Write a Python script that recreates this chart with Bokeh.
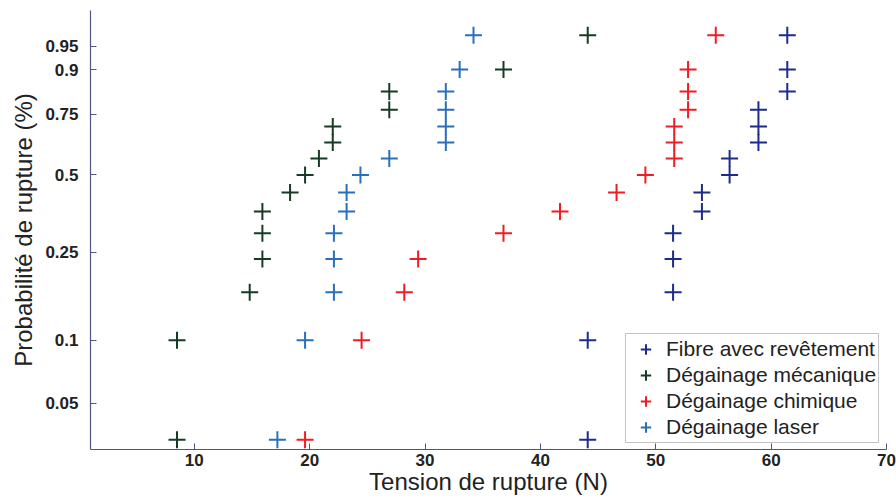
import math
from bokeh.plotting import figure
from bokeh.models import Range1d, FixedTicker, CustomJSTickFormatter, Legend, LegendItem
from bokeh.embed import file_html
from bokeh.resources import INLINE

# ---- data ----
n_samples = 15
# median-rank plotting positions (i - 0.5) / n
probabilities = [(i - 0.5) / n_samples for i in range(1, n_samples + 1)]

fibre_revetement = [44.1, 44.1, 51.5, 51.5, 51.5, 54.0, 54.0, 56.4, 56.4, 58.9, 58.9, 58.9, 61.4, 61.4, 61.4]
degainage_mecanique = [8.5, 8.5, 14.8, 15.9, 15.9, 15.9, 18.3, 19.6, 20.8, 22.0, 22.0, 26.9, 26.9, 36.8, 44.1]
degainage_chimique = [19.6, 24.5, 28.2, 29.4, 36.8, 41.7, 46.6, 49.1, 51.6, 51.6, 51.6, 52.8, 52.8, 52.8, 55.2]
degainage_laser = [17.2, 19.6, 22.1, 22.1, 22.1, 23.2, 23.2, 24.4, 26.9, 31.8, 31.8, 31.8, 31.8, 33.0, 34.2]

series_names = ["Fibre avec revêtement", "Dégainage mécanique", "Dégainage chimique", "Dégainage laser"]
series_values = [fibre_revetement, degainage_mecanique, degainage_chimique, degainage_laser]
series_colors = ["#1c2b8c", "#163b25", "#ee1c24", "#2a6ebe"]

y_tick_probs = [0.05, 0.1, 0.25, 0.5, 0.75, 0.9, 0.95]
y_tick_labels = ["0.05", "0.1", "0.25", "0.5", "0.75", "0.9", "0.95"]
x_ticks = [10, 20, 30, 40, 50, 60, 70]
x_title = "Tension de rupture (N)"
y_title = "Probabilité de rupture (%)"


def weibull(p):
    """Weibull probability scale: ln(-ln(1-p))."""
    return math.log(-math.log(1.0 - p))


y_pos = [weibull(q) for q in probabilities]
y_tick_pos = [weibull(q) for q in y_tick_probs]

FONT = "Liberation Sans"
AXIS_COLOR = "#50557f"
TEXT_COLOR = "#222222"

p = figure(width=896, height=497,
           x_range=Range1d(1, 70),
           y_range=Range1d(weibull(0.0299), weibull(0.989)),
           output_backend="svg", toolbar_location=None,
           min_border_left=90, min_border_right=10,
           min_border_top=10, min_border_bottom=48)
p.outline_line_color = None
p.grid.visible = False
p.background_fill_color = "white"
p.border_fill_color = "white"

renderers = []
for vals, col in zip(series_values, series_colors):
    r = p.scatter(vals, y_pos, marker="cross", size=17, line_width=2, line_color=col)
    renderers.append(r)

# axes
p.xaxis.ticker = FixedTicker(ticks=x_ticks)
p.yaxis.ticker = FixedTicker(ticks=y_tick_pos)
p.yaxis.formatter = CustomJSTickFormatter(args=dict(pos=y_tick_pos, lab=y_tick_labels), code="""
let best = 0, d = Infinity;
for (let i = 0; i < pos.length; i++) {
  const e = Math.abs(pos[i] - tick);
  if (e < d) { d = e; best = i; }
}
return lab[best];
""")

for ax in (p.xaxis[0], p.yaxis[0]):
    ax.major_tick_in = 6
    ax.major_tick_out = 0
    ax.minor_tick_line_color = None
    ax.axis_line_color = AXIS_COLOR
    ax.major_tick_line_color = AXIS_COLOR
    ax.axis_line_width = 1.2
    ax.major_label_text_font = FONT
    ax.major_label_text_font_size = "17px"
    ax.major_label_text_font_style = "bold"
    ax.major_label_text_color = TEXT_COLOR
    ax.axis_label_text_font = FONT
    ax.axis_label_text_font_size = "24px"
    ax.axis_label_text_font_style = "normal"
    ax.axis_label_text_color = TEXT_COLOR

p.xaxis.axis_label = x_title
p.yaxis.axis_label = y_title
p.xaxis.major_label_standoff = 4
p.xaxis.axis_label_standoff = -1
p.yaxis.major_label_standoff = 12
p.yaxis.axis_label_standoff = 5

legend = Legend(items=[LegendItem(label=nm, renderers=[r]) for nm, r in zip(series_names, renderers)],
                location=(535, 6))
legend.glyph_width = 35
legend.glyph_height = 26
legend.label_height = 26
legend.spacing = 0
legend.padding = 2
legend.margin = 0
legend.label_standoff = 3
legend.label_text_font = FONT
legend.label_text_font_size = "21px"
legend.label_text_color = TEXT_COLOR
legend.border_line_color = "#8a8a8a"
legend.border_line_width = 1
legend.background_fill_color = "white"
legend.background_fill_alpha = 1.0
p.add_layout(legend)

open("out.html", "w").write(file_html(p, INLINE))
